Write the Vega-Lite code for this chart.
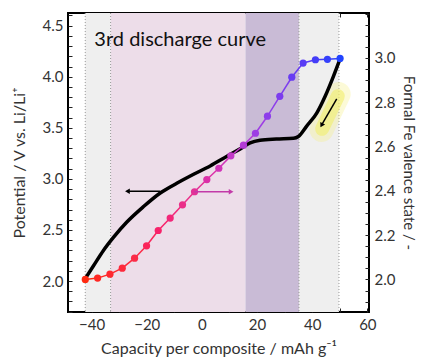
{
  "$schema": "https://vega.github.io/schema/vega-lite/v6.json",
  "width": 301,
  "height": 299,
  "autosize": {"type": "none"},
  "padding": {"left": 68, "top": 13, "right": 52, "bottom": 45},
  "config": {
    "view": {"stroke": "black", "strokeWidth": 2},
    "font": "Lato",
    "axis": {
      "labelFont": "Lato", "titleFont": "Lato",
      "labelFontSize": 15, "titleFontSize": 16,
      "labelColor": "#333", "titleColor": "#333",
      "titleFontWeight": "normal",
      "domain": false, "grid": false,
      "tickColor": "#222", "tickWidth": 1, "tickSize": -4,
      "labelOverlap": false, "zindex": 1, "tickCount": 200
    }
  },
  "datasets": {
    "zones": [
      {"zone": "edge", "start": -42.3, "end": -33.1},
      {"zone": "pink", "start": -33.1, "end": 15.8},
      {"zone": "purple", "start": 15.8, "end": 35.2},
      {"zone": "edge", "start": 35.2, "end": 49.7}
    ],
    "vlines": [{"cap": -42.3}, {"cap": -33.1}, {"cap": 35.2}, {"cap": 49.7}],
    "potential": [
      {"cap": -42.3, "pot": 2.024}, {"cap": -39.3, "pot": 2.15}, {"cap": -35.7, "pot": 2.3},
      {"cap": -32.0, "pot": 2.43}, {"cap": -27.2, "pot": 2.578}, {"cap": -21.2, "pot": 2.728},
      {"cap": -15.1, "pot": 2.862}, {"cap": -9.1, "pot": 2.957}, {"cap": -3.0, "pot": 3.045},
      {"cap": 3.0, "pot": 3.127}, {"cap": 9.1, "pot": 3.222}, {"cap": 13.9, "pot": 3.294},
      {"cap": 17.5, "pot": 3.352}, {"cap": 21.1, "pot": 3.378}, {"cap": 27.0, "pot": 3.39},
      {"cap": 33.2, "pot": 3.397}, {"cap": 35.0, "pot": 3.415}, {"cap": 38.0, "pot": 3.516},
      {"cap": 41.7, "pot": 3.647}, {"cap": 44.7, "pot": 3.809}, {"cap": 47.7, "pot": 4.004},
      {"cap": 49.9, "pot": 4.16}
    ],
    "valence": [
      {"cap": -42.28, "fe": 2.0}, {"cap": -37.81, "fe": 2.006}, {"cap": -33.34, "fe": 2.024},
      {"cap": -28.88, "fe": 2.051}, {"cap": -24.41, "fe": 2.096}, {"cap": -20.06, "fe": 2.152},
      {"cap": -15.83, "fe": 2.221}, {"cap": -11.49, "fe": 2.277}, {"cap": -7.02, "fe": 2.337},
      {"cap": -2.67, "fe": 2.396}, {"cap": 1.8, "fe": 2.451}, {"cap": 6.15, "fe": 2.502},
      {"cap": 10.5, "fe": 2.558}, {"cap": 15.08, "fe": 2.606}, {"cap": 19.43, "fe": 2.66},
      {"cap": 23.78, "fe": 2.737}, {"cap": 28.25, "fe": 2.827}, {"cap": 32.6, "fe": 2.913},
      {"cap": 36.7, "fe": 2.977}, {"cap": 41.17, "fe": 2.992}, {"cap": 45.52, "fe": 2.994},
      {"cap": 50.11, "fe": 2.998}
    ]
  },
  "layer": [
    {
      "data": {"name": "zones"},
      "mark": {"type": "rect"},
      "encoding": {
        "x": {
          "field": "start", "type": "quantitative",
          "scale": {"domain": [-48.55, 60.6], "nice": false, "zero": false},
          "axis": {
            "orient": "bottom",
            "values": [-40, -30, -20, -10, 0, 10, 20, 30, 40, 50, 60],
            "labelExpr": "datum.value % 20 === 0 ? datum.label : ''",
            "format": "d",
            "tickCount": 200,
            "labelPadding": 9,
            "titlePadding": 8,
            "title": "Capacity per composite / mAh g⁻¹"
          }
        },
        "x2": {"field": "end"},
        "color": {
          "field": "zone", "type": "nominal",
          "scale": {"domain": ["edge", "pink", "purple"], "range": ["#efefef", "#eddde9", "#c9bbd6"]},
          "legend": null
        }
      }
    },
    {
      "data": {"name": "vlines"},
      "mark": {"type": "rule", "strokeDash": [1, 2], "color": "#999", "strokeWidth": 1},
      "encoding": {"x": {"field": "cap", "type": "quantitative", "axis": null}}
    },
    {
      "data": {"name": "vlines"},
      "mark": {"type": "rule", "opacity": 0},
      "encoding": {
        "x": {
          "field": "cap", "type": "quantitative",
          "axis": {
            "orient": "top",
            "values": [-40, -30, -20, -10, 0, 10, 20, 30, 40, 50, 60],
            "tickCount": 200,
            "labels": false, "title": null
          }
        }
      }
    },
    {
      "layer": [
        {
          "data": {"values": [{"x": 49.6, "y": 3.83, "x2": 43.4, "y2": 3.48}]},
          "mark": {"type": "rule", "color": "#f4f07a", "strokeWidth": 24, "strokeCap": "round", "opacity": 0.3},
          "encoding": {
            "x": {"field": "x", "type": "quantitative", "axis": null},
            "y": {"field": "y", "type": "quantitative"},
            "x2": {"field": "x2"}, "y2": {"field": "y2"}
          }
        },
        {
          "data": {"values": [{"x": 49.3, "y": 3.81, "x2": 43.6, "y2": 3.49}]},
          "mark": {"type": "rule", "color": "#f2ee6a", "strokeWidth": 14, "strokeCap": "round", "opacity": 0.6},
          "encoding": {
            "x": {"field": "x", "type": "quantitative", "axis": null},
            "y": {"field": "y", "type": "quantitative"},
            "x2": {"field": "x2"}, "y2": {"field": "y2"}
          }
        },
        {
          "data": {"name": "potential"},
          "mark": {"type": "line", "color": "black", "strokeWidth": 3.5, "interpolate": "monotone", "strokeCap": "round"},
          "encoding": {
            "x": {"field": "cap", "type": "quantitative", "axis": null},
            "y": {
              "field": "pot", "type": "quantitative",
              "scale": {"domain": [1.697, 4.624], "nice": false, "zero": false},
              "axis": {
                "orient": "left",
                "values": [1.7, 1.8, 1.9, 2.0, 2.1, 2.2, 2.3, 2.4, 2.5, 2.6, 2.7, 2.8, 2.9, 3.0, 3.1, 3.2, 3.3, 3.4, 3.5, 3.6, 3.7, 3.8, 3.9, 4.0, 4.1, 4.2, 4.3, 4.4, 4.5, 4.6],
                "labelExpr": "abs(datum.value*2 - round(datum.value*2)) < 0.001 ? format(datum.value, '.1f') : ''",
                "tickCount": 200,
                "labelPadding": 9,
                "titlePadding": 15,
                "title": "Potential / V vs. Li/Li⁺"
              }
            }
          }
        },
        {
          "data": {"values": [{"x": -15.1, "y": 2.88, "x2": -27.0, "y2": 2.88}, {"x": 48.9, "y": 3.783, "x2": 43.6, "y2": 3.535}]},
          "mark": {"type": "rule", "color": "black", "strokeWidth": 1.5},
          "encoding": {
            "x": {"field": "x", "type": "quantitative", "axis": null},
            "y": {"field": "y", "type": "quantitative"},
            "x2": {"field": "x2"}, "y2": {"field": "y2"}
          }
        },
        {
          "data": {"values": [{"x": -27.0, "y": 2.88, "a": 270}, {"x": 43.4, "y": 3.525, "a": 208}]},
          "mark": {"type": "point", "shape": "triangle-up", "filled": true, "color": "black", "size": 30, "opacity": 1},
          "encoding": {
            "x": {"field": "x", "type": "quantitative", "axis": null},
            "y": {"field": "y", "type": "quantitative"},
            "angle": {"field": "a", "type": "quantitative", "scale": null}
          }
        },
        {
          "data": {"values": [{"x": -39.0, "y": 4.363, "t": "3rd discharge curve"}]},
          "mark": {"type": "text", "align": "left", "baseline": "middle", "fontSize": 20, "font": "Lato", "color": "#111"},
          "encoding": {
            "x": {"field": "x", "type": "quantitative", "axis": null},
            "y": {"field": "y", "type": "quantitative"},
            "text": {"field": "t"}
          }
        }
      ]
    },
    {
      "layer": [
        {
          "data": {"name": "valence"},
          "transform": [
            {"window": [{"op": "lead", "field": "cap", "as": "cap2"}, {"op": "lead", "field": "fe", "as": "fe2"}], "sort": [{"field": "cap"}]},
            {"filter": "datum.cap2 != null"}
          ],
          "mark": {"type": "rule", "strokeWidth": 1.5},
          "encoding": {
            "x": {"field": "cap", "type": "quantitative", "axis": null},
            "y": {"field": "fe", "type": "quantitative"},
            "x2": {"field": "cap2"}, "y2": {"field": "fe2"},
            "color": {"field": "cap", "type": "quantitative", "legend": null}
          }
        },
        {
          "data": {"name": "valence"},
          "mark": {"type": "circle", "size": 52, "opacity": 1},
          "encoding": {
            "x": {"field": "cap", "type": "quantitative", "axis": null},
            "y": {
              "field": "fe", "type": "quantitative",
              "scale": {"domain": [1.853, 3.203], "nice": false, "zero": false},
              "axis": {
                "orient": "right",
                "values": [1.85, 1.9, 1.95, 2.0, 2.05, 2.1, 2.15, 2.2, 2.25, 2.3, 2.35, 2.4, 2.45, 2.5, 2.55, 2.6, 2.65, 2.7, 2.75, 2.8, 2.85, 2.9, 2.95, 3.0, 3.05, 3.1, 3.15, 3.2],
                "labelExpr": "datum.value < 3.05 && abs(datum.value*5 - round(datum.value*5)) < 0.001 ? format(datum.value, '.1f') : ''",
                "tickCount": 200,
                "labelPadding": 9,
                "titlePadding": 6,
                "titleFontSize": 15,
                "title": "Formal Fe valence state  /  -"
              }
            },
            "color": {
              "field": "cap", "type": "quantitative",
              "scale": {
                "domain": [-42, -25, -5, 10, 20, 32, 42, 50],
                "range": ["#ff2a12", "#fb2c45", "#e6338f", "#c43ac6", "#9a3ee6", "#6a3cf2", "#3f3df8", "#2244ff"]
              },
              "legend": null
            }
          }
        },
        {
          "data": {"values": [{"x": -2.7, "y": 2.396, "x2": 10.6, "y2": 2.396}]},
          "mark": {"type": "rule", "color": "#c23aa8", "strokeWidth": 1.5},
          "encoding": {
            "x": {"field": "x", "type": "quantitative", "axis": null},
            "y": {"field": "y", "type": "quantitative"},
            "x2": {"field": "x2"}, "y2": {"field": "y2"}
          }
        },
        {
          "data": {"values": [{"x": 10.6, "y": 2.396}]},
          "mark": {"type": "point", "shape": "triangle-right", "filled": true, "color": "#c23aa8", "size": 30, "opacity": 1},
          "encoding": {
            "x": {"field": "x", "type": "quantitative", "axis": null},
            "y": {"field": "y", "type": "quantitative"}
          }
        }
      ]
    }
  ],
  "resolve": {"scale": {"y": "independent", "color": "independent"}, "axis": {"x": "independent"}}
}
